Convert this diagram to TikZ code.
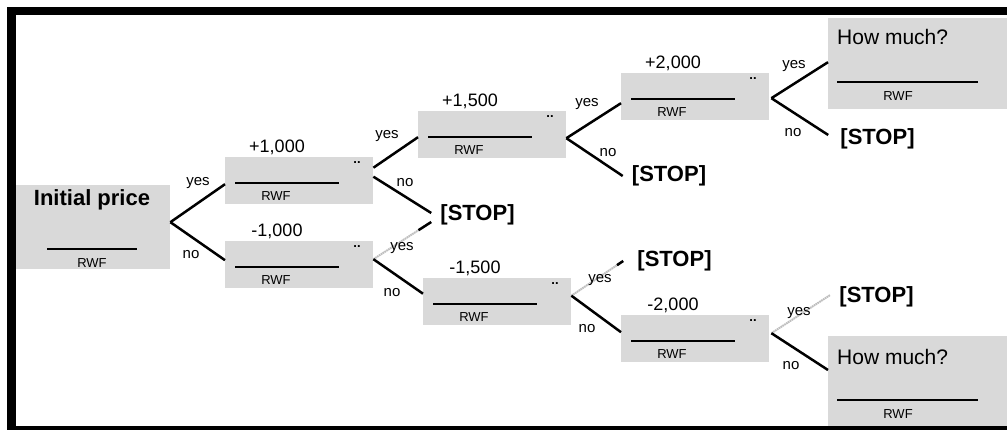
\documentclass[tikz,border=0pt]{standalone}
\usepackage{fontspec}
\setmainfont{Liberation Sans}
\usetikzlibrary{calc}
\definecolor{boxgray}{RGB}{217,217,217}
\definecolor{lnkgray}{RGB}{190,190,190}
\tikzset{
  box/.style={fill=boxgray, draw=none, inner sep=0pt, anchor=north west},
  uline/.style={line width=2pt},
  hline/.style={line width=1.4pt},
  rwf/.style={inner sep=0pt, font=\fontsize{13}{13}\selectfont},
  dotsl/.style={inner sep=0pt, font=\fontsize{13}{13}\selectfont\bfseries},
  val/.style={inner sep=0pt, font=\fontsize{18}{18}\selectfont},
  lab/.style={inner sep=0pt, font=\fontsize{15}{15}\selectfont},
  stopn/.style={inner xsep=9pt, inner ysep=0pt, font=\fontsize{22}{22}\selectfont\bfseries},
  conn/.style={line width=2.5pt},
  gconn/.style={line width=2pt, draw=lnkgray, dash pattern=on 1.6pt off 0.6pt},
}
\newcommand\pbox[4]{%
  \begin{scope}[shift={(#2,#3)}]
    \node[box, minimum width=148pt, minimum height=47pt] (#1) at (0,0) {};
    \draw[uline] (10,26) -- (114,26);
    \node[rwf] (#1-r) at (51,39) {RWF};
    \node[dotsl] (#1-d) at (132,6) {..};
    \node[val] (#1-v) at (52,-10) {#4};
  \end{scope}}
\begin{document}
\begin{tikzpicture}[x=1pt,y=-1pt]
\useasboundingbox (0,0) rectangle (1007,430);
\begin{scope}
\clip (0,0) rectangle (1007,430);
% frame
\fill[black] (7,7) rectangle (16,430);
\fill[black] (7,7) rectangle (1007,15);
% initial price box
\node[box, minimum width=154pt, minimum height=84pt] (ip) at (16,185) {};
\node[inner sep=0pt, font=\fontsize{22}{22}\selectfont\bfseries] (ip-t) at (92,200) {Initial price};
\draw[uline] (47,249) -- (137,249);
\node[rwf] (ip-r) at (92,263) {RWF};
% price boxes
\pbox{p1}{225}{157}{+1,000}
\pbox{m1}{225}{241}{-1,000}
\pbox{p15}{418}{111}{+1,500}
\pbox{m15}{423}{278}{-1,500}
\pbox{p2}{621}{73}{+2,000}
\pbox{m2}{621}{315}{-2,000}
% how much boxes
\node[box, minimum width=185pt, minimum height=91pt] (hm1) at (828,18) {};
\node[inner sep=0pt, anchor=west, font=\fontsize{21}{21}\selectfont] (hm1-t) at (837,37) {How much?};
\draw[hline] (837,82) -- (978,82);
\node[rwf] (hm1-r) at (898,96) {RWF};
\node[box, minimum width=185pt, minimum height=96pt] (hm2) at (828,336) {};
\node[inner sep=0pt, anchor=west, font=\fontsize{21}{21}\selectfont] (hm2-t) at (837,357) {How much?};
\draw[hline] (837,400) -- (978,400);
\node[rwf] (hm2-r) at (898,414) {RWF};
\fill[black] (7,425.5) rectangle (1007,430);
% stop nodes
\node[stopn] (s1) at (477.5,215) {[STOP]};
\node[stopn] (s2) at (669,176) {[STOP]};
\node[stopn] (s3) at (877.5,139) {[STOP]};
\node[stopn] (s4) at (674.5,261) {[STOP]};
\node[stopn] (s5) at (876.5,297) {[STOP]};
% fork points
\coordinate (ip-f) at ([yshift=5pt]ip.east);
\coordinate (p1-fy) at ([yshift=13pt]p1.east);
\coordinate (p1-fn) at ([yshift=4pt]p1.east);
\coordinate (m1-f) at ([yshift=5.5pt]m1.east);
\coordinate (p15-f) at ([yshift=-3.5pt]p15.east);
\coordinate (m15-f) at ([yshift=6pt]m15.east);
\coordinate (p2-f) at ([xshift=2pt,yshift=-1.5pt]p2.east);
\coordinate (m2-f) at ([xshift=2pt,yshift=5.5pt]m2.east);
% connectors
\draw[conn] (ip-f) -- ([yshift=-3.5pt]p1.west);
\draw[conn] (ip-f) -- ([yshift=4.5pt]m1.west);
\draw[conn] (p1-fy) -- ([yshift=-2.5pt]p15.west);
\draw[conn] (p1-fn) -- ([yshift=2pt]s1.west);
\draw[gconn] (m1-f) -- ([yshift=-7pt]s1.west);
\draw[conn] ($(m1-f)!0.78!([yshift=-7pt]s1.west)$) -- ([yshift=-7pt]s1.west);
\draw[conn] (m1-f) -- ([yshift=8pt]m15.west);
\draw[conn] (p15-f) -- ([yshift=-6.5pt]p2.west);
\draw[conn] (p15-f) -- (s2.west);
\draw[gconn] (m15-f) -- ([xshift=-5pt]s4.west);
\draw[conn] ($(m15-f)!0.88!([xshift=-5pt]s4.west)$) -- ([xshift=-5pt]s4.west);
\draw[conn] (m15-f) -- ([yshift=6.5pt]m2.west);
\draw[conn] (p2-f) -- ([yshift=1.5pt]hm1.west);
\draw[conn] (p2-f) -- ([xshift=-3pt,yshift=4pt]s3.west);
\draw[gconn] (m2-f) -- ([yshift=2pt]s5.west);
\draw[conn] (m2-f) -- (828,370) coordinate (hm2-in);
% yes / no labels
\node[lab] (l1) at (198,183) {yes};
\node[lab] (l2) at (191,255) {no};
\node[lab] (l3) at (387,136) {yes};
\node[lab] (l4) at (405,183) {no};
\node[lab] (l5) at (402,248) {yes};
\node[lab] (l6) at (392,293) {no};
\node[lab] (l7) at (587,104) {yes};
\node[lab] (l8) at (608,153) {no};
\node[lab] (l9) at (600,280) {yes};
\node[lab] (l10) at (587,329) {no};
\node[lab] (l11) at (794,66) {yes};
\node[lab] (l12) at (793,133) {no};
\node[lab] (l13) at (799,313) {yes};
\node[lab] (l14) at (791,366) {no};
\end{scope}
\end{tikzpicture}
\end{document}
